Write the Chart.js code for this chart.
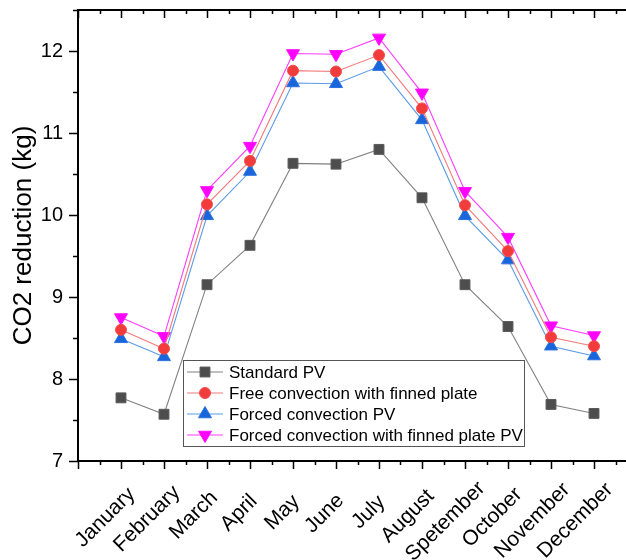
<!DOCTYPE html>
<html>
<head>
<meta charset="utf-8">
<script src="https://cdn.jsdelivr.net/npm/chart.js@4"></script>
<style>
  html, body { margin: 0; padding: 0; background: #fff; overflow: hidden; }
  #wrap { width: 660px; height: 560px; position: relative; }
</style>
</head>
<body>
<div id="wrap"><canvas id="myChart"></canvas></div>
<script>
const months = ["January", "February", "March", "April", "May", "June", "July",
  "August", "Spetember", "October", "November", "December"];
const standardPV = [7.77, 7.57, 9.15, 9.63, 10.63, 10.62, 10.80, 10.21, 9.15, 8.64, 7.69, 7.58];
const freeFinned = [8.60, 8.37, 10.13, 10.66, 11.76, 11.75, 11.95, 11.30, 10.12, 9.56, 8.51, 8.40];
const forcedPV = [8.49, 8.27, 9.99, 10.53, 11.61, 11.60, 11.81, 11.16, 9.99, 9.45, 8.40, 8.28];
const forcedFinned = [8.75, 8.52, 10.30, 10.84, 11.97, 11.96, 12.16, 11.49, 10.29, 9.73, 8.65, 8.53];
const seriesNames = ["Standard PV", "Free convection with finned plate",
  "Forced convection PV", "Forced convection with finned plate PV"];

const FONT = "'Liberation Sans', Arial, sans-serif";

const toPoints = (arr) => arr.map((v, i) => ({ x: i + 1, y: v }));

const datasets = [
  { label: seriesNames[0], data: toPoints(standardPV), borderColor: "#808080",
    backgroundColor: "#4d4d4d", pointBorderColor: "#5a5a5a", pointStyle: "rect", pointRadius: 7 },
  { label: seriesNames[1], data: toPoints(freeFinned), borderColor: "#f27a7a",
    backgroundColor: "#f23c3c", pointBorderColor: "#f24a4a", pointStyle: "circle", pointRadius: 5.5 },
  { label: seriesNames[2], data: toPoints(forcedPV), borderColor: "#5b9be6",
    backgroundColor: "#1865dc", pointBorderColor: "#2a70dd", pointStyle: "triangle", pointRadius: 7.5 },
  { label: seriesNames[3], data: toPoints(forcedFinned), borderColor: "#ff3cff",
    backgroundColor: "#ff00ff", pointBorderColor: "#ff10ff", pointStyle: "triangle",
    pointRotation: 180, pointRadius: 7.5 },
].map((d) => Object.assign({ borderWidth: 1.1, pointBorderWidth: 1, pointHoverRadius: d.pointRadius, tension: 0 }, d));

// frame, ticks, month labels and legend drawn by hand, Origin style
const originAxes = {
  id: "originAxes",
  afterDraw(chart) {
    const ctx = chart.ctx;
    const { left, right, top, bottom } = chart.chartArea;
    const xs = chart.scales.x, ys = chart.scales.y;
    ctx.save();
    ctx.strokeStyle = "#000";
    ctx.lineWidth = 2;
    ctx.beginPath();
    ctx.moveTo(left, top);
    ctx.lineTo(right, top);
    ctx.stroke();
    ctx.lineWidth = 1.5;
    ctx.beginPath();
    for (let v = 0; v <= 13; v += 0.5) {
      const px = Math.round(xs.getPixelForValue(v)) + 0.5;
      const major = Number.isInteger(v);
      ctx.moveTo(px, bottom);
      ctx.lineTo(px, bottom + (major ? 8 : 4));
      ctx.moveTo(px, top);
      ctx.lineTo(px, top + (major ? 8 : 4));
    }
    for (let v = 7; v <= 12.5; v += 0.5) {
      const py = Math.round(ys.getPixelForValue(v)) + 0.5;
      const major = Number.isInteger(v);
      ctx.moveTo(left, py);
      ctx.lineTo(left - (major ? 9 : 5), py);
    }
    ctx.stroke();

    // rotated month labels
    ctx.font = "21px " + FONT;
    ctx.fillStyle = "#000";
    ctx.textAlign = "right";
    ctx.textBaseline = "middle";
    months.forEach((m, i) => {
      const w = ctx.measureText(m).width;
      ctx.save();
      ctx.translate(xs.getPixelForValue(i + 1) - 5, bottom + 46);
      ctx.rotate(-Math.PI / 4);
      ctx.fillText(m, 0.3 * w, 0);
      ctx.restore();
    });

    // legend
    const bx = 183.5, by = 360.5, bw = 341, bh = 86;
    ctx.fillStyle = "#fff";
    ctx.fillRect(bx, by, bw, bh);
    ctx.strokeStyle = "#555";
    ctx.lineWidth = 1;
    ctx.strokeRect(bx, by, bw, bh);
    ctx.font = "17px " + FONT;
    ctx.textBaseline = "middle";
    ctx.textAlign = "left";
    chart.data.datasets.forEach((ds, i) => {
      const y = 372 + i * 21;
      ctx.strokeStyle = ds.borderColor;
      ctx.lineWidth = ds.borderWidth;
      ctx.beginPath();
      ctx.moveTo(187, y);
      ctx.lineTo(223, y);
      ctx.stroke();
      ctx.fillStyle = ds.backgroundColor;
      ctx.strokeStyle = ds.pointBorderColor;
      ctx.lineWidth = 1;
      Chart.helpers.drawPoint(ctx, {
        pointStyle: ds.pointStyle, radius: ds.pointRadius,
        rotation: ds.pointRotation || 0, borderWidth: 1,
      }, 205, y);
      ctx.fillStyle = "#000";
      ctx.fillText(ds.label, 229, y + 1);
    });
    ctx.restore();
  },
};

new Chart(document.getElementById("myChart"), {
  type: "line",
  data: { datasets },
  options: {
    responsive: true,
    maintainAspectRatio: false,
    animation: false,
    events: [],
    layout: { padding: { top: 10, right: 23, left: 0, bottom: 0 } },
    plugins: { legend: { display: false }, tooltip: { enabled: false } },
    scales: {
      x: {
        type: "linear",
        min: 0,
        max: 13,
        grid: { display: false, drawTicks: false },
        border: { display: true, color: "#000", width: 2 },
        afterFit: (s) => { s.height = 99; s.paddingLeft = 0; s.paddingRight = 0; },
        ticks: { display: false, stepSize: 1 },
      },
      y: {
        min: 7,
        max: 12.5,
        grid: { display: false, drawTicks: false },
        border: { display: true, color: "#000", width: 2 },
        afterFit: (s) => { s.width = 78; s.paddingTop = 0; s.paddingBottom = 0; },
        title: {
          display: true,
          text: "CO2 reduction (kg)",
          color: "#000",
          font: { family: FONT, size: 26 },
          padding: { top: 8, bottom: 0 },
        },
        ticks: {
          stepSize: 0.5,
          padding: 15,
          color: "#000",
          font: { family: FONT, size: 20 },
          callback: (v) => (Number.isInteger(v) ? String(v) : ""),
        },
      },
    },
  },
  plugins: [originAxes],
});
</script>
</body>
</html>
